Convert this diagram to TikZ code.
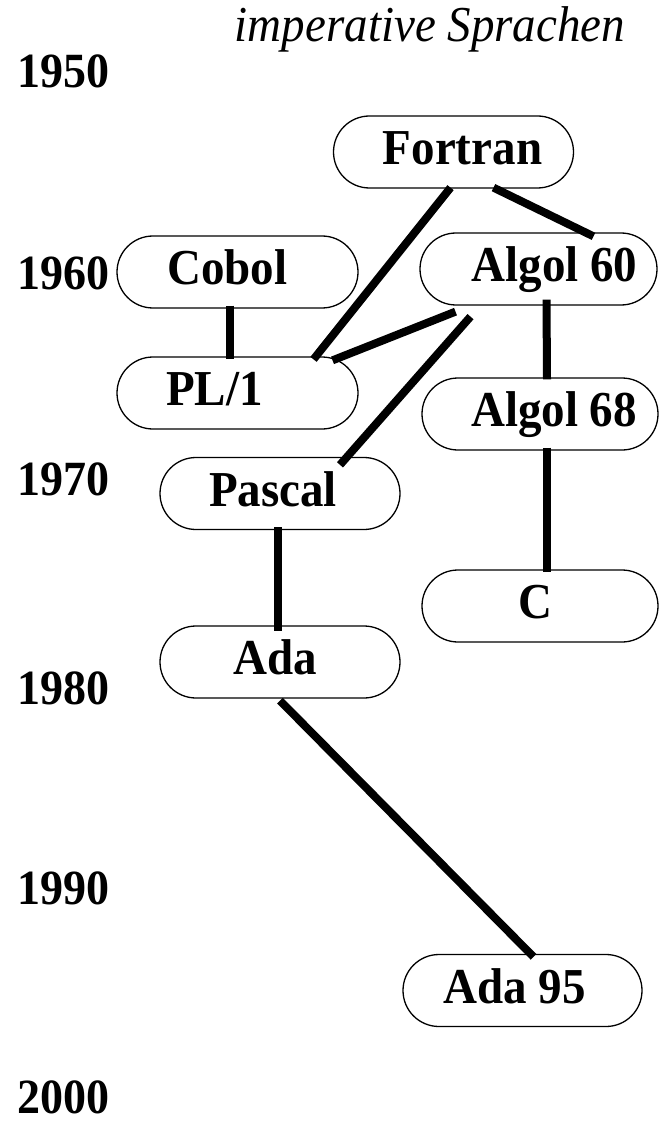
\documentclass[tikz,border=0pt]{standalone}
\usepackage{fontspec}
\setmainfont{Liberation Serif}
\usetikzlibrary{calc}
\newcommand{\tallb}[1]{\scalebox{1}[1.07]{#1}}
\begin{document}
\begin{tikzpicture}[x=1pt,y=-1pt,
  box/.style={draw, line width=1.3pt, rounded corners=36pt, minimum width=240pt, minimum height=72pt, inner sep=0pt},
  lbl/.style={font=\fontsize{47}{50}\selectfont\bfseries, inner sep=0pt, text height=33pt, text depth=0pt},
  year/.style={font=\fontsize{46}{50}\selectfont\bfseries, inner sep=0pt, anchor=west, text height=32pt, text depth=0pt},
  conn/.style={line width=8pt}]
\useasboundingbox (0,0) rectangle (659,1139);
% title
\node[font=\fontsize{47}{50}\selectfont\itshape, inner sep=0pt] (title) at (430,29) {\tallb{imperative Sprachen}};
% years
\node[year] (y1950) at (17,72) {\tallb{1950}};
\node[year] (y1960) at (17,274) {\tallb{1960}};
\node[year] (y1970) at (17,479) {\tallb{1970}};
\node[year] (y1980) at (17,688) {\tallb{1980}};
\node[year] (y1990) at (17,888) {\tallb{1990}};
\node[year] (y2000) at (17,1097) {\tallb{2000}};
% boxes
\node[box] (fortran) at (453.5,152) {};
\node[box, minimum width=237pt] (algol60) at (538.5,269) {};
\node[box, minimum width=241pt] (cobol) at (237.5,272) {};
\node[box, minimum width=241pt] (pl1) at (237.5,393) {};
\node[box, minimum width=236pt] (algol68) at (540,414) {};
\node[box, minimum width=236pt] (c) at (540,606) {};
\node[box] (pascal) at (280,493.5) {};
\node[box] (ada) at (280,662) {};
\node[box, minimum width=239pt] (ada95) at (522.5,990.5) {};
% labels
\node[lbl] (tfortran) at ($(fortran)+(9,-4)$) {\tallb{Fortran}};
\node[lbl] (talgol60) at ($(algol60)+(16,-4)$) {\tallb{Algol 60}};
\node[lbl] (tcobol) at ($(cobol)+(-10,-4)$) {\tallb{Cobol}};
\node[lbl] (tpl1) at ($(pl1)+(-23,-4)$) {\tallb{PL/1}};
\node[lbl] (talgol68) at ($(algol68)+(14,-4)$) {\tallb{Algol 68}};
\node[lbl] (tc) at ($(c)+(-5,-4)$) {\tallb{C}};
\node[lbl] (tpascal) at ($(pascal)+(-7,-4)$) {\tallb{Pascal}};
\node[lbl] (tada) at ($(ada)+(-5,-4)$) {\tallb{Ada}};
\node[lbl] (tada95) at ($(ada95)+(-8,-4)$) {\tallb{Ada 95}};
% connectors
\draw[conn] ($(cobol.south)+(-8,-3)$) -- ($(pl1.north)+(-8,3)$);
\draw[conn] ($(fortran.south)+(-3,-1)$) -- ($(pl1.north)+(76,3)$);
\draw[conn] ($(fortran.south)+(40,-1)$) -- ($(algol60.north)+(55,4)$);
\draw[conn] ($(algol60.south)+(-83,6)$) -- ($(pl1.north)+(95,4)$);
\draw[conn] ($(algol60.south)+(-68,11)$) -- ($(pascal.north)+(60,8)$);
\draw[conn] ($(algol60.south)+(8,-6)$) -- ($(algol68.north)+(7,2)$);
\draw[conn] ($(algol68.south)+(7,-3)$) -- ($(c.north)+(7,3)$);
\draw[conn] ($(pascal.south)+(-2,-3)$) -- ($(ada.north)+(-2,6)$);
\draw[conn] ($(ada.south)+(0,2)$) -- ($(ada95.north)+(11,3)$);
\end{tikzpicture}
\end{document}
